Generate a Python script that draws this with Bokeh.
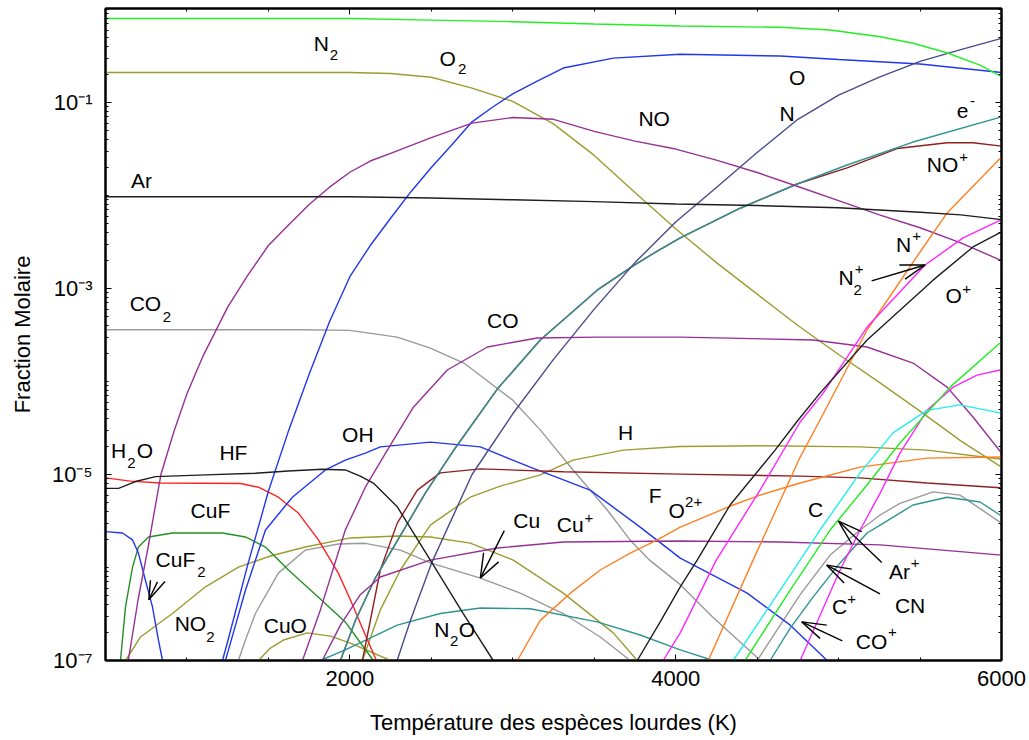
from bokeh.plotting import figure
from bokeh.models import Range1d, FixedTicker, LinearAxis, LogAxis, ColumnDataSource
from bokeh.embed import file_html
from bokeh.resources import INLINE
from bokeh.core.properties import value

FONT = "Liberation Sans"

# ---------------- data: temperature (K) / molar fraction ----------------
T_N2 = [500, 1000, 1500, 2000, 2500, 3000, 3500, 4028, 4641, 4948, 5255, 5457, 5664, 5868, 6000]
X_N2 = [0.80, 0.80, 0.80, 0.80, 0.77, 0.74, 0.70, 0.665, 0.644, 0.603, 0.51, 0.434, 0.343, 0.253, 0.19]

T_O2 = [500, 1000, 1500, 2000, 2250, 2500, 2750, 3000, 3250, 3500, 3750, 4000, 4250, 4500, 4750, 5000, 5250, 5500, 5750, 6000]
X_O2 = [0.21, 0.21, 0.21, 0.21, 0.205, 0.187, 0.143, 0.103, 0.059, 0.027, 0.0108, 0.0044, 1.9e-3, 8.7e-4, 4.0e-4, 1.95e-4, 9.8e-5, 4.8e-5, 2.3e-5, 1.2e-5]

T_O = [1218, 1250, 1375, 1500, 1625, 1750, 1875, 2000, 2125, 2250, 2375, 2500, 2625, 2750, 2875, 3000, 3150, 3310, 3617, 4028, 4641, 5000, 5500, 6000]
X_O = [1e-7, 1.6e-7, 1.1e-6, 6.6e-6, 3.0e-5, 1.2e-4, 4.4e-4, 1.34e-3, 2.9e-3, 5.7e-3, 0.011, 0.020, 0.035, 0.062, 0.089, 0.124, 0.17, 0.235, 0.30, 0.33, 0.316, 0.29, 0.26, 0.21]

T_N = [2290, 2375, 2500, 2750, 3000, 3250, 3500, 3750, 4000, 4250, 4500, 4750, 5000, 5250, 5500, 5750, 6000]
X_N = [1e-7, 2.8e-7, 1.1e-6, 1.0e-5, 4.5e-5, 1.73e-4, 6.0e-4, 1.9e-3, 5.2e-3, 0.0122, 0.029, 0.066, 0.12, 0.188, 0.277, 0.37, 0.49]

T_NO = [640, 700, 760, 840, 920, 1000, 1100, 1250, 1375, 1500, 1625, 1750, 1875, 2000, 2125, 2250, 2500, 2750, 3000, 3250, 3500, 3750, 4000, 4250, 4500, 4750, 5000, 5250, 5500, 5750, 6000]
X_NO = [1e-7, 4.5e-7, 1.6e-6, 1e-5, 2.9e-5, 7.4e-5, 1.9e-4, 6.3e-4, 1.4e-3, 2.9e-3, 4.85e-3, 8.0e-3, 0.0123, 0.0178, 0.0235, 0.0284, 0.042, 0.060, 0.069, 0.066, 0.049, 0.0385, 0.0316, 0.024, 0.0177, 0.0125, 0.0088, 6.2e-3, 4.5e-3, 3.1e-3, 2.0e-3]

T_AR = [500, 1500, 2000, 2500, 3000, 3500, 4000, 4500, 5000, 5500, 5750, 6000]
X_AR = [9.7e-3, 9.7e-3, 9.7e-3, 9.4e-3, 9.0e-3, 8.6e-3, 8.1e-3, 7.8e-3, 7.4e-3, 6.6e-3, 6.2e-3, 5.5e-3]

T_E = [1942, 2034, 2156, 2310, 2463, 2635, 2905, 3169, 3518, 3739, 3887, 4028, 4396, 4745, 5052, 5457, 6000]
X_E = [1e-7, 2.7e-7, 7.7e-7, 2.2e-6, 6.3e-6, 1.8e-5, 8.3e-5, 2.8e-4, 9.6e-4, 1.75e-3, 2.53e-3, 3.5e-3, 7.3e-3, 0.0133, 0.0213, 0.0376, 0.070]

T_NOP = [1942, 2034, 2156, 2310, 2463, 2635, 2905, 3169, 3518, 3739, 3887, 4028, 4396, 4745, 5052, 5359, 5666, 5825, 6000]
X_NOP = [1e-7, 2.7e-7, 7.7e-7, 2.2e-6, 6.3e-6, 1.8e-5, 8.3e-5, 2.8e-4, 9.6e-4, 1.75e-3, 2.53e-3, 3.5e-3, 7.3e-3, 0.0133, 0.0198, 0.032, 0.037, 0.037, 0.034]

T_CO2 = [500, 1700, 2000, 2290, 2490, 2700, 3000, 3170, 3270, 3370, 3580, 3720, 3840, 4030, 4230, 4520]
X_CO2 = [3.6e-4, 3.6e-4, 3.55e-4, 3.0e-4, 2.3e-4, 1.58e-4, 6.3e-5, 3.0e-5, 1.83e-5, 1.12e-5, 4.15e-6, 1.98e-6, 1.2e-6, 6.5e-7, 2.9e-7, 1e-7]

T_CO = [1709, 1819, 1972, 2095, 2230, 2390, 2598, 2844, 3150, 3518, 4028, 4843, 5175, 5457, 5666, 5825, 6000]
X_CO = [1e-7, 3.5e-7, 2.53e-6, 7.3e-6, 1.83e-5, 5.3e-5, 1.33e-4, 2.35e-4, 2.94e-4, 3.0e-4, 3.0e-4, 2.8e-4, 2.35e-4, 1.58e-4, 8.7e-5, 4.15e-5, 1.7e-5]

T_H2O = [500, 653, 837, 1328, 1439, 1561, 1684, 1807, 1929, 2003, 2095, 2163]
X_H2O = [9.2e-6, 8.5e-6, 8.1e-6, 8.0e-6, 7.3e-6, 5.7e-6, 3.85e-6, 1.98e-6, 8.7e-7, 4.5e-7, 1.88e-7, 1e-7]

T_HF = [500, 580, 684, 807, 1114, 1420, 1623, 1829, 1972, 2064, 2144, 2291, 2494, 2696, 2880]
X_HF = [7.1e-6, 7.1e-6, 8.4e-6, 9.5e-6, 9.9e-6, 1.03e-5, 1.09e-5, 1.14e-5, 1.12e-5, 9.6e-6, 8.1e-6, 4.5e-6, 1.2e-6, 3.2e-7, 1e-7]

T_CUF = [592, 623, 666, 702, 764, 911, 1218, 1359, 1482, 1623, 1807, 1972, 2144]
X_CUF = [1e-7, 3.8e-7, 1.01e-6, 1.66e-6, 2.13e-6, 2.35e-6, 2.35e-6, 2.13e-6, 1.66e-6, 9.4e-7, 4.8e-7, 2.6e-7, 1e-7]

T_CUF2 = [500, 604, 666, 702, 745, 788, 825, 850]
X_CUF2 = [2.43e-6, 2.35e-6, 1.98e-6, 1.43e-6, 7.3e-7, 3.8e-7, 1.66e-7, 1e-7]

T_NO2 = [623, 715, 911, 1114, 1316, 1512, 1727, 2003, 2291, 2494, 2739, 3003, 3310, 3617, 3764]
X_NO2 = [1e-7, 1.79e-7, 3.2e-7, 6.2e-7, 1.01e-6, 1.33e-6, 1.66e-6, 2.08e-6, 2.18e-6, 2.13e-6, 1.83e-6, 1.2e-6, 5.3e-7, 1.98e-7, 1e-7]

T_CUO = [1439, 1512, 1592, 1739, 1880, 2003, 2249]
X_CUO = [1e-7, 1.36e-7, 1.66e-7, 1.98e-7, 1.83e-7, 1.54e-7, 1e-7]

T_CU = [1316, 1359, 1420, 1561, 1727, 1929, 2095, 2310, 2494, 2801, 3046, 3310, 3537, 3721]
X_CU = [1e-7, 1.66e-7, 3.2e-7, 8.7e-7, 1.54e-6, 1.79e-6, 1.82e-6, 1.54e-6, 1.12e-6, 7.7e-7, 5.3e-7, 3.2e-7, 1.79e-7, 1e-7]

T_OH = [1236, 1255, 1359, 1482, 1647, 1850, 1972, 2095, 2187, 2494, 2801, 3107, 3475, 3782, 4028, 4439, 4703, 4930]
X_OH = [1e-7, 1.3e-7, 5.7e-7, 2.53e-6, 5.7e-6, 1.12e-5, 1.43e-5, 1.7e-5, 1.98e-5, 2.23e-5, 1.98e-5, 1.2e-5, 6.8e-6, 2.72e-6, 1.26e-6, 5.3e-7, 2.4e-7, 1e-7]

T_N2O = [1819, 1972, 2291, 2555, 2801, 3107, 3518, 3782, 4028, 4230]
X_N2O = [1e-7, 1.3e-7, 2.4e-7, 3.2e-7, 3.67e-7, 3.6e-7, 2.6e-7, 1.88e-7, 1.3e-7, 1e-7]

T_CUP = [1831, 1942, 2064, 2187, 2494, 2905, 3310, 4028, 4641, 5255, 6000]
X_CUP = [1e-7, 2.4e-7, 5.1e-7, 7.9e-7, 1.2e-6, 1.62e-6, 1.88e-6, 1.93e-6, 1.88e-6, 1.75e-6, 1.36e-6]

T_F = [2077, 2187, 2291, 2414, 2555, 2801, 3310, 4028, 4764, 5132, 5543, 5991]
X_F = [1e-7, 9.4e-7, 3.0e-6, 6.8e-6, 1.04e-5, 1.15e-5, 1.07e-5, 1.01e-5, 9.6e-6, 9.2e-6, 8.1e-6, 7.2e-6]

T_H = [2077, 2187, 2310, 2494, 2739, 2923, 3169, 3371, 3678, 4028, 4518, 5132, 5543, 5991]
X_H = [1e-7, 3.5e-7, 9.4e-7, 2.86e-6, 5.7e-6, 7.5e-6, 9.9e-6, 1.43e-5, 1.83e-5, 2.0e-5, 2.04e-5, 1.98e-5, 1.83e-5, 1.47e-5]

T_OP = [3764, 3905, 4028, 4132, 4334, 4610, 4752, 4886, 5175, 5580, 5825, 6000]
X_OP = [1e-7, 2.6e-7, 6.2e-7, 1.2e-6, 4.7e-6, 1.83e-5, 3.86e-5, 7.5e-5, 2.8e-4, 1.23e-3, 2.8e-3, 4.06e-3]

T_N2P = [3923, 4028, 4249, 4518, 4764, 4905, 5175, 5531, 5764, 6000]
X_N2P = [1e-7, 1.98e-7, 1.2e-6, 6.8e-6, 3.67e-5, 7.5e-5, 3.85e-4, 1.79e-3, 3.5e-3, 5.5e-3]

T_NP = [4200, 4475, 4764, 4886, 5175, 5500, 5666, 6000]
X_NP = [1e-7, 1.2e-6, 1.54e-5, 3.86e-5, 3.58e-4, 2.47e-3, 6.5e-3, 0.026]

T_O2P = [3028, 3169, 3353, 3537, 3721, 3887, 4028, 4353, 4518, 4764, 5132, 5543, 6000]
X_O2P = [1e-7, 2.7e-7, 5.3e-7, 9.4e-7, 1.43e-6, 1.98e-6, 2.72e-6, 4.7e-6, 6.0e-6, 8.1e-6, 1.2e-5, 1.5e-5, 1.54e-5]

T_C = [4353, 4518, 4703, 4886, 5132, 5334, 5543, 5745, 5991]
X_C = [1e-7, 2.7e-7, 8.3e-7, 2.53e-6, 1.04e-5, 2.8e-5, 4.9e-5, 5.6e-5, 4.6e-5]

T_ARP = [4426, 4703, 4948, 5163, 5377, 5684, 5991]
X_ARP = [1e-7, 5.7e-7, 2.53e-6, 7.3e-6, 2.18e-5, 8.7e-5, 2.6e-4]

T_CP = [4764, 5009, 5132, 5255, 5377, 5543, 5703, 5850, 5991]
X_CP = [1e-7, 9.4e-7, 2.53e-6, 6.3e-6, 1.7e-5, 4.9e-5, 8.7e-5, 1.17e-4, 1.33e-4]

T_CN = [4500, 4764, 4948, 5132, 5255, 5377, 5580, 5745, 5991]
X_CN = [1e-7, 5.1e-7, 1.36e-6, 2.53e-6, 3.67e-6, 4.9e-6, 6.5e-6, 6.0e-6, 3.08e-6]

T_COP = [4580, 4703, 4843, 5009, 5175, 5255, 5457, 5666, 5868, 6000]
X_COP = [1e-7, 2.23e-7, 4.8e-7, 1.12e-6, 2.35e-6, 2.86e-6, 4.7e-6, 5.7e-6, 5.06e-6, 3.58e-6]

# ---------------- colours ----------------
LIME = "#22ee22"
OLIVE = "#9c9c30"
BLUE = "#2236ee"
SLATE = "#4a4a8c"
PURPLE = "#963096"
BLACK = "#1e1e1e"
TEAL = "#2e9494"
MAROON = "#8e2020"
MAGENTA = "#ff26ff"
ORANGE = "#ff7f22"
CYAN = "#22eeee"
GRAY = "#9a9a9a"
RED = "#ff2222"
GREEN = "#239023"

series = [
    (T_CO2, X_CO2, GRAY), (T_CU, X_CU, GRAY), (T_CN, X_CN, GRAY),
    (T_NO2, X_NO2, OLIVE), (T_CUO, X_CUO, OLIVE), (T_H, X_H, OLIVE), (T_O2, X_O2, OLIVE),
    (T_CUF, X_CUF, GREEN), (T_H2O, X_H2O, RED),
    (T_CUF2, X_CUF2, BLUE), (T_OH, X_OH, BLUE), (T_O, X_O, BLUE),
    (T_N2O, X_N2O, TEAL), (T_COP, X_COP, TEAL),
    (T_F, X_F, MAROON), (T_NOP, X_NOP, MAROON), (T_E, X_E, TEAL),
    (T_CUP, X_CUP, PURPLE), (T_CO, X_CO, PURPLE), (T_NO, X_NO, PURPLE),
    (T_N, X_N, SLATE),
    (T_O2P, X_O2P, ORANGE), (T_NP, X_NP, ORANGE),
    (T_N2P, X_N2P, MAGENTA), (T_CP, X_CP, MAGENTA),
    (T_C, X_C, CYAN), (T_ARP, X_ARP, LIME), (T_N2, X_N2, LIME),
    (T_HF, X_HF, BLACK), (T_AR, X_AR, BLACK), (T_OP, X_OP, BLACK),
]

# ---------------- species labels: base text, T, fraction, [(script, dx px, dy px)] ----------------
LABELS = [
    ("N", 1825, 0.43, [("2", 12.5, 11.5)]),
    ("O", 2601, 0.297, [("2", 14.5, 10.5)]),
    ("NO", 3868, 0.067, []),
    ("O", 4745, 0.186, []),
    ("N", 4684, 0.077, []),
    ("e", 5761, 0.081, [("-", 10, -10)]),
    ("NO", 5638, 0.0218, [("+", 21, -7.5)]),
    ("Ar", 721, 0.0145, []),
    ("CO", 745, 6.9e-4, [("2", 21.5, 13.5)]),
    ("H", 580, 1.81e-5, [("2", 13, 12)]),
    ("O", 742, 1.81e-5, []),
    ("HF", 1285, 1.73e-5, []),
    ("CuF", 1144, 4.15e-6, []),
    ("CuF", 929, 1.23e-6, [("2", 26, 13)]),
    ("NO", 1021, 2.47e-7, [("2", 20, 13)]),
    ("CuO", 1604, 2.35e-7, []),
    ("OH", 2049, 2.66e-5, []),
    ("CO", 2939, 4.58e-4, []),
    ("H", 3693, 2.83e-5, []),
    ("F", 3874, 5.94e-6, []),
    ("O", 4006, 4.06e-6, [("2+", 17, -9)]),
    ("Cu", 3086, 3.2e-6, []),
    ("Cu", 3353, 2.9e-6, [("+", 18.5, -7)]),
    ("N", 2564, 2.13e-7, [("2", 12.5, 11)]),
    ("O", 2718, 2.13e-7, []),
    ("C", 4859, 4.2e-6, []),
    ("Ar", 5374, 9.06e-7, [("+", 15.5, -8)]),
    ("CN", 5439, 3.95e-7, []),
    ("C", 5006, 3.8e-7, [("+", 12, -8)]),
    ("CO", 5202, 1.62e-7, [("+", 21, -9.5)]),
    ("N", 5399, 2.94e-3, [("+", 13, -9)]),
    ("N", 5046, 1.31e-3, [("2", 11.5, 12.5), ("+", 13, -9)]),
    ("O", 5706, 8.4e-4, [("+", 13, -7)]),
]

# arrows: tail, tip, barb 1, barb 2  (T, fraction)
ARROWS = [
    ((865, 7.07e-7), (766, 4.5e-7), (776, 7.3e-7), (819, 7.0e-7)),
    ((2948, 2.49e-6), (2801, 7.7e-7), (2821, 1.44e-6), (2913, 1.15e-6)),
    ((5203, 1.21e-3), (5531, 1.79e-3), (5373, 1.79e-3), (5408, 1.26e-3)),
    ((5265, 1.13e-6), (4999, 3.16e-6), (5142, 2.43e-6), (5081, 1.79e-6)),
    ((5254, 5.2e-7), (4927, 1.06e-6), (5081, 9.6e-7), (5034, 6.8e-7)),
    ((5023, 1.63e-7), (4774, 2.6e-7), (4927, 2.4e-7), (4886, 1.73e-7)),
]

Y_TICKS = [1e-7, 1e-5, 1e-3, 1e-1]
Y_TICK_LABELS = ["10\u207b\u2077", "10\u207b\u2075", "10\u207b\u00b3", "10\u207b\u00b9"]
X_TICKS = [2000, 4000, 6000]
X_MINOR = [1000, 1500, 2500, 3000, 3500, 4500, 5000, 5500]

# ---------------- figure ----------------
p = figure(x_range=Range1d(500, 6000), y_range=Range1d(1e-7, 1.026), y_axis_type="log",
           frame_width=896, frame_height=652,
           min_border_left=105, min_border_right=26, min_border_top=8, min_border_bottom=80,
           output_backend="svg", toolbar_location=None)
p.xgrid.visible = False
p.ygrid.visible = False
p.outline_line_color = "black"
p.outline_line_width = 2
p.background_fill_color = "white"
p.border_fill_color = "white"

y_minor = [m * 10.0 ** e for e in range(-7, 0) for m in range(1, 10)] + [1.0]

def style_axis(ax, labels=True):
    ax.axis_line_color = "black"
    ax.axis_line_width = 2
    ax.major_tick_in = 6
    ax.major_tick_out = 0
    ax.minor_tick_in = 3
    ax.minor_tick_out = 0
    ax.major_tick_line_color = "black"
    ax.minor_tick_line_color = "black"
    ax.major_tick_line_width = 1
    ax.minor_tick_line_width = 1
    ax.major_label_text_font = FONT
    ax.major_label_text_color = "black"
    if not labels:
        ax.major_label_text_color = None
        ax.major_label_text_font_size = "2px"
        ax.major_label_standoff = 0

xb = p.xaxis[0]
xb.ticker = FixedTicker(ticks=X_TICKS, minor_ticks=X_MINOR)
style_axis(xb)
xb.major_label_text_font_size = "22px"
xb.major_label_standoff = 10
xb.axis_label = "Température des espèces lourdes (K)"
xb.axis_label_text_font = FONT
xb.axis_label_text_font_size = "22px"
xb.axis_label_text_color = "black"
xb.axis_label_text_font_style = "normal"
xb.axis_label_standoff = 21

yl = p.yaxis[0]
yl.ticker = FixedTicker(ticks=Y_TICKS, minor_ticks=y_minor)
style_axis(yl)
yl.major_label_text_font_size = "22px"
yl.major_label_standoff = 13
yl.major_label_overrides = {t: s for t, s in zip(Y_TICKS, Y_TICK_LABELS)}
yl.axis_label = "Fraction Molaire"
yl.axis_label_text_font = FONT
yl.axis_label_text_font_size = "22px"
yl.axis_label_text_color = "black"
yl.axis_label_text_font_style = "normal"
yl.axis_label_standoff = 14

xt = LinearAxis(ticker=FixedTicker(ticks=X_TICKS, minor_ticks=X_MINOR))
style_axis(xt, labels=False)
p.add_layout(xt, "above")
yr = LogAxis(ticker=FixedTicker(ticks=Y_TICKS, minor_ticks=y_minor))
style_axis(yr, labels=False)
p.add_layout(yr, "right")

# curves
for t, x, c in series:
    p.line(t, x, line_color=c, line_width=1.4)

# arrows
a_x0, a_y0, a_x1, a_y1 = [], [], [], []
for tail, tip, b1, b2 in ARROWS:
    for end in (tail, b1, b2):
        a_x0.append(tip[0]); a_y0.append(tip[1]); a_x1.append(end[0]); a_y1.append(end[1])
p.segment(a_x0, a_y0, a_x1, a_y1, line_color="black", line_width=1.4)

# labels
base = dict(x=[], y=[], text=[])
scr = dict(x=[], y=[], text=[], dx=[], dy=[])
for txt, t, v, scripts in LABELS:
    base["x"].append(t); base["y"].append(v); base["text"].append(txt)
    for s, dx, dy in scripts:
        scr["x"].append(t); scr["y"].append(v); scr["text"].append(s)
        scr["dx"].append(dx); scr["dy"].append(dy)
p.text(x="x", y="y", text="text", source=ColumnDataSource(base),
       text_font=value(FONT), text_font_size="21px", text_color="black",
       text_align="center", text_baseline="middle")
p.text(x="x", y="y", text="text", x_offset="dx", y_offset="dy", source=ColumnDataSource(scr),
       text_font=value(FONT), text_font_size="15px", text_color="black",
       text_align="center", text_baseline="middle")

open("out.html", "w").write(file_html(p, INLINE))
